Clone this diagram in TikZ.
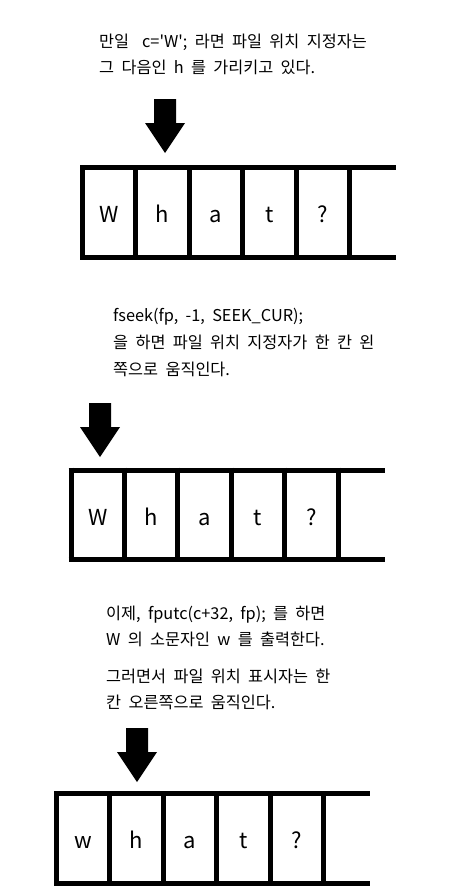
\documentclass[tikz,border=0pt]{standalone}
\usepackage{fontspec}
\setmainfont{Noto Sans CJK KR}[Ligatures=TeXOff]
\newcommand\widesp{\spaceskip=0.45em\relax}
\tikzset{
  cellline/.style={line width=5pt},
  cellchar/.style={font=\fontsize{22}{26}\selectfont, anchor=base, inner sep=0pt},
  para/.style={font=\fontsize{16.3}{26}\selectfont, execute at begin node=\widesp, anchor=base west, inner sep=0pt},
  blockarrow/.style={fill=black}
}
\newcommand\mystrip[3]{% prefix, x0, top
  \begin{scope}[shift={(#2,#3)}]
    \draw[cellline] (-2.5,0) -- (313.5,0);
    \draw[cellline] (-2.5,89.5) -- (313.5,89.5);
    \foreach \i in {0,...,5} \draw[cellline] (\i*53.4,-2.5) -- (\i*53.4,92);
  \end{scope}}
\newcommand\myarrow[2]{% center x, top y
  \fill[blockarrow] (#1-11,#2) -- (#1+11,#2) -- (#1+11,#2+24) -- (#1+20,#2+24)
    -- (#1,#2+54) -- (#1-20,#2+24) -- (#1-11,#2+24) -- cycle;}
\begin{document}
\begin{tikzpicture}[x=1pt,y=-1pt]
\useasboundingbox (0,0) rectangle (476,894);
\fill[white] (0,0) rectangle (476,894);

% section 1
\node[para] (p1a) at (99,47) {만일\hspace{13pt}c='W'; 라면 파일 위치 지정자는};
\node[para] (p1b) at (99,73) {그 다음인 h 를 가리키고 있다.};
\myarrow{165}{99}
\mystrip{s1}{82.5}{167.5}
\foreach \c [count=\i from 0] in {W,h,a,t,?}
  \node[cellchar] (s1c\i) at (82.5+\i*53.4+26.7, 222.5) {\c};

% section 2
\node[para] (p2a) at (113,321) {fseek(fp, -1, SEEK\_CUR);};
\node[para] (p2b) at (113,348) {을 하면 파일 위치 지정자가 한 칸 왼};
\node[para] (p2c) at (113,375) {쪽으로 움직인다.};
\myarrow{100}{403}
\mystrip{s2}{71}{470}
\foreach \c [count=\i from 0] in {W,h,a,t,?}
  \node[cellchar] (s2c\i) at (71+\i*53.4+26.7, 525) {\c};

% section 3
\node[para] (p3a) at (106,619) {이제, fputc(c+32, fp); 를 하면};
\node[para] (p3b) at (106,645) {W 의 소문자인 w 를 출력한다.};
\node[para] (p3c) at (106,682) {그러면서 파일 위치 표시자는 한};
\node[para] (p3d) at (106,708) {칸 오른쪽으로 움직인다.};
\myarrow{137}{728}
\mystrip{s3}{56.5}{793.5}
\foreach \c [count=\i from 0] in {w,h,a,t,?}
  \node[cellchar] (s3c\i) at (56.5+\i*53.4+26.7, 848.5) {\c};
\end{tikzpicture}
\end{document}
